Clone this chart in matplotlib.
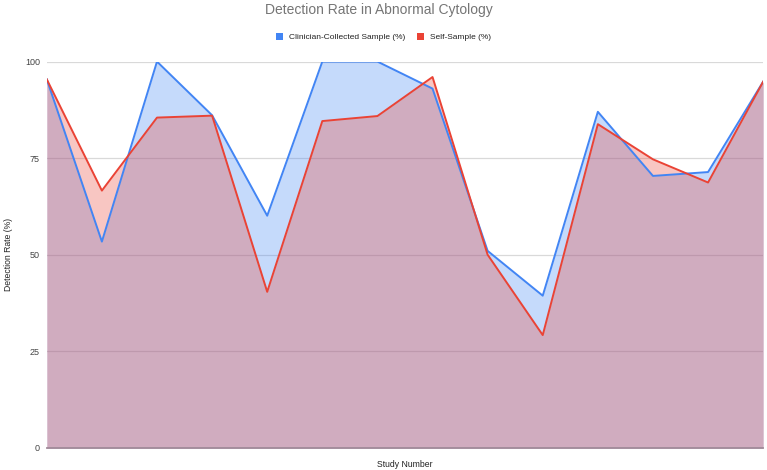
import matplotlib
matplotlib.use("Agg")
import matplotlib.pyplot as plt
import numpy as np
from matplotlib.patches import Patch

plt.rcParams['font.family'] = ['Liberation Sans', 'DejaVu Sans']

studies = list(range(1, 15))
clinician = [95.4, 53.4, 100, 86.1, 60.1, 100, 100, 93.0, 51.0, 39.4, 87.0, 70.4, 71.4, 94.8]
self_sample = [95.4, 66.6, 85.5, 86.0, 40.4, 84.6, 85.9, 96.0, 50.0, 29.2, 83.8, 74.7, 68.7, 94.8]
yticks = [0, 25, 50, 75, 100]

blue = '#4285F4'
red = '#EA4335'

fig = plt.figure(figsize=(7.67, 4.70), dpi=100)
ax = fig.add_axes([0.061, 0.047, 0.934, 0.822])

x = np.arange(len(studies))
ax.fill_between(x, 0, clinician, color=blue, alpha=0.3, linewidth=0, zorder=2)
ax.fill_between(x, 0, self_sample, color=red, alpha=0.3, linewidth=0, zorder=3)
ax.plot(x, clinician, color=blue, linewidth=1.4, zorder=4)
ax.plot(x, self_sample, color=red, linewidth=1.4, zorder=5)

ax.set_xlim(0, len(studies) - 1)
ax.set_ylim(0, 100)
ax.set_yticks(yticks)
ax.set_yticklabels([str(t) for t in yticks], fontsize=6.5, color='#444444')
ax.set_xticks([])
ax.tick_params(axis='y', length=0, pad=5)
ax.grid(axis='y', color='#d9d9d9', linewidth=0.9, zorder=1)
ax.set_axisbelow(True)
for s in ['top', 'right', 'left']:
    ax.spines[s].set_visible(False)
ax.spines['bottom'].set_color('#a08a99')
ax.spines['bottom'].set_linewidth(1.3)
ax.spines['bottom'].set_zorder(6)

ax.set_xlabel('Study Number', fontsize=6.2, color='#222222', labelpad=9)
ax.set_ylabel('Detection Rate (%)', fontsize=6.2, color='#222222')
ax.yaxis.set_label_coords(-0.047, 0.5, transform=ax.transAxes)

fig.text(0.494, 0.979, 'Detection Rate in Abnormal Cytology', ha='center', va='center',
         fontsize=10, color='#757575')

handles = [Patch(facecolor=blue, edgecolor='none'), Patch(facecolor=red, edgecolor='none')]
fig.legend(handles, ['Clinician-Collected Sample (%)', 'Self-Sample (%)'],
           loc='center', bbox_to_anchor=(0.5, 0.921), ncol=2, frameon=False,
           fontsize=6.0, handlelength=0.9, handleheight=0.9, handletextpad=0.7,
           columnspacing=1.4, labelcolor='#222222')

fig.savefig('out.png', dpi=100)
